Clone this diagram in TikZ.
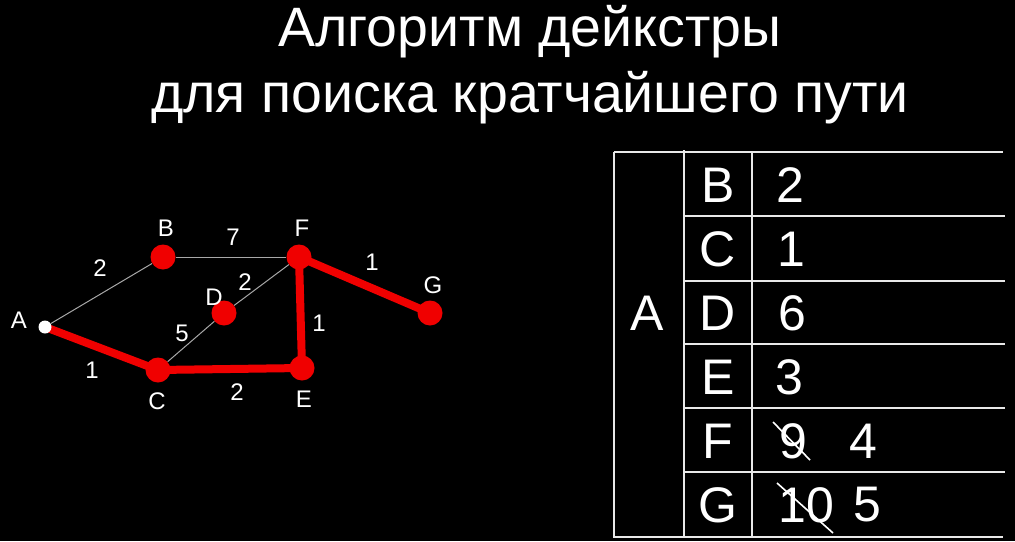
\documentclass[tikz,border=0pt]{standalone}
\usepackage{fontspec}
\setmainfont{Liberation Sans}
\usetikzlibrary{positioning}
\definecolor{pathRed}{HTML}{F00000}
\definecolor{edgeGrey}{HTML}{A8A8A8}
\definecolor{gridWhite}{HTML}{E8E8E8}
\pgfdeclarelayer{back}
\pgfdeclarelayer{edges}
\pgfsetlayers{back,edges,main}

\begin{document}
\begin{tikzpicture}[
  x=1pt, y=-1pt,
  every node/.style={text=white, inner sep=0pt},
  vertex/.style={circle, fill=pathRed, minimum size=25pt},
  startv/.style={circle, fill=white, minimum size=13pt},
  thinedge/.style={draw=edgeGrey, line width=1pt},
  route/.style={draw=pathRed, line width=8pt},
  vname/.style={font=\fontsize{24}{28}\selectfont},
  weight/.style={font=\fontsize{24}{28}\selectfont},
  title/.style={anchor=base, font=\fontsize{55.5}{62}\selectfont},
  cell/.style={font=\fontsize{50}{56}\selectfont},
  grid/.style={draw=gridWhite, line width=2pt},
  strike/.style={draw=white, line width=1.6pt}
]
\begin{pgfonlayer}{back}
\fill[black] (0,0) rectangle (1015,541);
\end{pgfonlayer}

% title
\node[title] (t1) at (530,46) {Алгоритм дейкстры};
\node[title] (t2) at (530,112) {для поиска кратчайшего пути};

% graph
\node[startv] (A) at (45,327) {};
\node[vertex] (B) at (163,257) {};
\node[vertex] (C) at (158,370) {};
\node[vertex] (D) at (224,313) {};
\node[vertex] (E) at (302,368) {};
\node[vertex] (F) at (299,257) {};
\node[vertex] (G) at (430,313) {};

\begin{pgfonlayer}{edges}
\draw[thinedge] (A) -- (B);
\draw[thinedge] (B) -- (F);
\draw[thinedge] (F) -- (D);
\draw[thinedge] (D) -- (C);
\draw[route] (A.center) -- (C.center) -- (E.center) -- (F.center) -- (G.center);
\end{pgfonlayer}

\node[vname] (lA) at (19,320) {A};
\node[vname] (lB) at (166,228) {B};
\node[vname] (lC) at (157,401) {C};
\node[vname] (lD) at (214,297) {D};
\node[vname] (lE) at (304,399) {E};
\node[vname] (lF) at (302,228) {F};
\node[vname] (lG) at (433,285) {G};

\node[weight] (wAB) at (100,268) {2};
\node[weight] (wBF) at (233,237) {7};
\node[weight] (wDF) at (245,282) {2};
\node[weight] (wCD) at (182,333) {5};
\node[weight] (wAC) at (92,370) {1};
\node[weight] (wCE) at (237,392) {2};
\node[weight] (wEF) at (319,323) {1};
\node[weight] (wFG) at (372,262) {1};

% table
\draw[grid] (614,152) -- (1003,152);
\draw[grid] (614,152) -- (614,537) -- (1003,537);
\draw[grid] (684,150) -- (684,537);
\draw[grid] (752,152) -- (752,537);
\foreach \y in {216,281,344,408,472}
  \draw[grid] (684,\y) -- (1005,\y);

\node[cell] (ta) at (647,313) {A};
\node[cell] (tB) at (718,185) {B};
\node[cell] (tC) at (718,249) {C};
\node[cell] (tD) at (718,313) {D};
\node[cell] (tE) at (718,377) {E};
\node[cell] (tF) at (718,441) {F};
\node[cell] (tG) at (718,505) {G};

\node[cell] (vB) at (790,185) {2};
\node[cell] (vC) at (791,249) {1};
\node[cell] (vD) at (792,313) {6};
\node[cell] (vE) at (789,377) {3};
\node[cell] (vF) at (793,441) {9};
\node[cell] (vFn) at (863,441) {4};
\node[cell] (vG) at (806,505) {10};
\node[cell] (vGn) at (867,505) {5};

\draw[strike] (773,422) -- (810,460);
\draw[strike] (777,483) -- (833,533);
\end{tikzpicture}
\end{document}
